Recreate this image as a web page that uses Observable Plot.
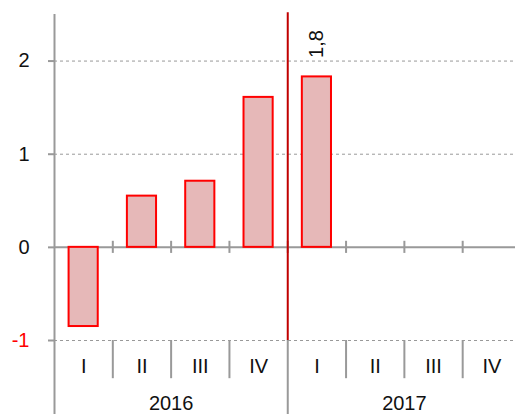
<!DOCTYPE html>
<html>
<head>
<meta charset="utf-8">
<script src="https://cdn.jsdelivr.net/npm/d3@7"></script>
<script src="https://cdn.jsdelivr.net/npm/@observablehq/plot@0.6"></script>
<style>
  html, body { margin: 0; padding: 0; background: #fff; }
  #chart svg { display: block; }
</style>
</head>
<body>
<div id="chart"></div>
<script>
const years = ["2016", "2017"];
const quarters = ["I", "II", "III", "IV"];
const values = [-0.85, 0.55, 0.71, 1.61, 1.83, null, null, null];
const valueLabels = [null, null, null, null, "1,8", null, null, null];
const yTicks = [-1, 0, 1, 2];
const gridValues = [-1, 1, 2];

const slots = years.flatMap((y, yi) => quarters.map((q, qi) => ({year: y, quarter: q, i: yi * 4 + qi})));
const bars = slots.map(s => ({...s, value: values[s.i], label: valueLabels[s.i]})).filter(d => d.value != null);
const boundaries = d3.range(1, slots.length);
const yearLabels = years.map((y, yi) => ({year: y, x: yi * 4 + 2}));
const yearSplit = quarters.length;

const font = "Liberation Sans, Arial, sans-serif";
const gray = "#999";

const chart = Plot.plot({
  width: 515,
  height: 414,
  marginTop: 14,
  marginBottom: 74,
  marginLeft: 54,
  marginRight: 0,
  style: {fontFamily: font, fontSize: "20px", color: "#111", background: "#fff"},
  x: {domain: [0, slots.length], range: [54, 520.5], axis: null},
  y: {domain: [-1, 2.5], axis: null},
  marks: [
    Plot.ruleY(gridValues, {x1: 0, x2: slots.length, stroke: gray, strokeDasharray: "3,3", strokeWidth: 1}),
    Plot.ruleY([0], {x1: 0, x2: slots.length, stroke: gray, strokeWidth: 2}),
    Plot.ruleX(boundaries, {y1: 0.065, y2: -0.065, stroke: gray, strokeWidth: 2}),
    Plot.ruleX(boundaries.filter(b => b !== yearSplit), {y1: -1, y2: -1.41, stroke: gray, strokeWidth: 2}),
    Plot.ruleX([yearSplit], {y1: -1, y2: -1.9, stroke: gray, strokeWidth: 2}),
    Plot.ruleX([0], {y1: 2.5, y2: -1.9, stroke: gray, strokeWidth: 2}),
    Plot.axisY({ticks: yTicks, tickSize: 6, tickPadding: 19, stroke: gray, strokeWidth: 2, tickFormat: d => String(d),
      fill: d => d < 0 ? "#ff0000" : "#111", fontSize: 20, label: null}),
    Plot.rectY(bars, {x1: d => d.i + 0.25, x2: d => d.i + 0.75, y1: 0, y2: "value", fill: "#e6b8b8", stroke: "#ff0000", strokeWidth: 2}),
    Plot.ruleX([yearSplit], {y1: -1, y2: 2.52, stroke: "#c00000", strokeWidth: 2}),
    Plot.text(bars.filter(d => d.label), {x: d => d.i + 0.5, y: "value", text: "label", rotate: -90, textAnchor: "start", dy: -19, fontSize: 20, fill: "#111"}),
    Plot.text(slots, {x: d => d.i + 0.5, y: -1, text: "quarter", dy: 26, fontSize: 20, fill: "#111"}),
    Plot.text(yearLabels, {x: "x", y: -1, text: "year", dy: 63, fontSize: 20, fill: "#111"})
  ]
});
document.getElementById("chart").appendChild(chart);
</script>
</body>
</html>
